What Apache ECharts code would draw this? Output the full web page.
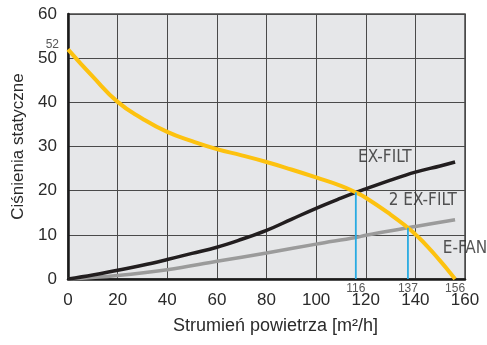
<!DOCTYPE html>
<html>
<head>
<meta charset="utf-8">
<script src="https://cdn.jsdelivr.net/npm/echarts@6/dist/echarts.min.js"></script>
<style>
  html, body { margin: 0; padding: 0; background: #ffffff; }
  #chart { width: 487px; height: 345px; }
</style>
</head>
<body>
<div id="chart"></div>
<script>
// Flow (m3/h) vs static pressure for the fan and filter curves
const fanFlow      = [0, 10, 20, 30, 40, 50, 60, 70, 80, 90, 100, 110, 116, 120, 130, 137, 140, 145, 150, 153, 156];
const fanPressure  = [52, 45.8, 40.1, 36.3, 33.3, 31.2, 29.4, 28, 26.5, 24.8, 23, 21.1, 19.6, 18.4, 14.6, 11.6, 10.1, 7.3, 4.1, 2.1, 0];

const exFiltFlow     = [0, 10, 20, 30, 40, 50, 60, 70, 80, 90, 100, 110, 116, 120, 130, 140, 150, 156];
const exFiltPressure = [0, 0.9, 2, 3.1, 4.4, 5.8, 7.2, 9, 11, 13.5, 16, 18.3, 19.6, 20.4, 22.4, 24.2, 25.6, 26.5];

const twoFiltFlow     = [0, 20, 40, 60, 80, 100, 116, 120, 137, 140, 156];
const twoFiltPressure = [0, 0.8, 2.1, 4, 5.9, 7.9, 9.4, 9.9, 11.6, 11.9, 13.4];

// Operating points (drop lines) and flow markers under the axis
const dropFlows     = [116, 137];
const dropPressures = [19.6, 11.6];
const markFlows     = [116, 137, 156];

const xTicks = [0, 20, 40, 60, 80, 100, 120, 140, 160];
const yTicks = [0, 10, 20, 30, 40, 50, 60];

const curveNames  = ['EX-FILT', '2 EX-FILT', 'E-FAN'];
const curveLabelX = [127.7, 143, 160];
const curveLabelY = [27.4, 17.7, 6.9];

const pairs = (xs, ys) => xs.map((x, i) => [x, ys[i]]);

const font = '"Liberation Sans", Arial, Helvetica, sans-serif';
const narrow = '"Liberation Sans Narrow", "DejaVu Sans Condensed", sans-serif';

const chart = echarts.init(document.getElementById('chart'), null, { renderer: 'canvas' });

const dropSeries = dropFlows.map((f, i) => ({
  type: 'line',
  data: [[f, 0], [f, dropPressures[i]]],
  showSymbol: false,
  lineStyle: { color: '#29abe2', width: 1.8 },
  z: 5,
  silent: true
}));

chart.setOption({
  animation: false,
  grid: {
    left: 68, right: 22, top: 14, bottom: 66,
    show: true,
    backgroundColor: '#e6e7e9',
    borderColor: '#4a4a4a',
    borderWidth: 1.5
  },
  xAxis: {
    type: 'value',
    min: xTicks[0], max: xTicks[xTicks.length - 1], interval: 20,
    name: 'Strumień powietrza [m²/h]',
    nameLocation: 'middle',
    nameGap: 38,
    nameTextStyle: { fontFamily: font, fontSize: 18, color: '#2a2a2a', padding: [0, 0, 0, 18] },
    axisLine: { show: true, onZero: false, lineStyle: { color: '#1a1a1a', width: 2.5 } },
    axisTick: { show: false },
    axisLabel: { fontFamily: font, fontSize: 17, color: '#2a2a2a', margin: 13 },
    splitLine: { show: true, lineStyle: { color: '#4a4a4a', width: 1 } }
  },
  yAxis: {
    type: 'value',
    min: yTicks[0], max: yTicks[yTicks.length - 1], interval: 10,
    name: 'Ciśnienia statyczne',
    nameLocation: 'middle',
    nameGap: 41,
    nameTextStyle: { fontFamily: font, fontSize: 17, color: '#2a2a2a' },
    axisLine: { show: true, onZero: false, lineStyle: { color: '#1a1a1a', width: 2.5 } },
    axisTick: { show: false },
    axisLabel: { fontFamily: font, fontSize: 17, color: '#2a2a2a', margin: 11 },
    splitLine: { show: true, lineStyle: { color: '#4a4a4a', width: 1 } }
  },
  series: [
    {
      name: '2 EX-FILT',
      type: 'line',
      smooth: 0.4,
      showSymbol: false,
      data: pairs(twoFiltFlow, twoFiltPressure),
      lineStyle: { color: '#9b9b9b', width: 3.5 },
      z: 2
    },
    {
      name: 'EX-FILT',
      type: 'line',
      smooth: 0.4,
      showSymbol: false,
      data: pairs(exFiltFlow, exFiltPressure),
      lineStyle: { color: '#221e1f', width: 3.5 },
      z: 3
    },
    {
      name: 'E-FAN',
      type: 'line',
      smooth: 0.5,
      showSymbol: false,
      data: pairs(fanFlow, fanPressure),
      lineStyle: { color: '#fdc20f', width: 4 },
      z: 4
    },
    ...dropSeries,
    {
      // small flow values under the axis
      type: 'scatter',
      symbolSize: 0,
      clip: false,
      silent: true,
      data: markFlows.map(f => [f, 0]),
      label: {
        show: true, position: 'bottom', distance: 4,
        formatter: p => String(p.value[0]),
        fontFamily: font, fontSize: 12, color: '#2a2a2a'
      },
      z: 6
    },
    {
      // shut-off pressure of the fan
      type: 'scatter',
      symbolSize: 0,
      clip: false,
      silent: true,
      data: [[fanFlow[0], fanPressure[0]]],
      label: {
        show: true, position: 'left', distance: 9, offset: [0, -5],
        formatter: p => String(p.value[1]),
        fontFamily: font, fontSize: 12, color: '#2a2a2a'
      },
      z: 6
    },
    {
      // curve captions
      type: 'scatter',
      symbolSize: 0,
      clip: false,
      silent: true,
      data: curveNames.map((n, i) => ({ name: n, value: [curveLabelX[i], curveLabelY[i]] })),
      label: {
        show: true, position: 'inside',
        formatter: p => p.name,
        fontFamily: narrow, fontSize: 17, color: '#2a2a2a'
      },
      z: 6
    }
  ]
});
</script>
</body>
</html>
